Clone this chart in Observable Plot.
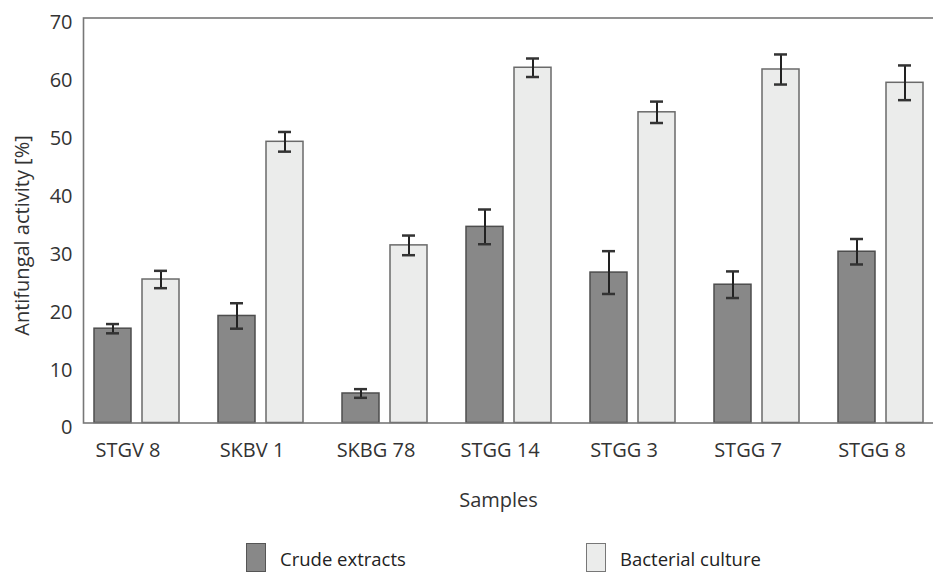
<!DOCTYPE html>
<html>
<head>
<meta charset="utf-8">
<script src="https://cdn.jsdelivr.net/npm/d3@7"></script>
<script src="https://cdn.jsdelivr.net/npm/@observablehq/plot@0.6"></script>
<style>
  html, body { margin: 0; padding: 0; background: #fff; }
  body { width: 933px; height: 572px; position: relative; overflow: hidden; font-family: "Open Sans", sans-serif; }
  #legend { position: absolute; left: 0; top: 543px; width: 933px; height: 29px; font-size: 18.5px; color: #222; }
  .item { position: absolute; top: 0; display: flex; align-items: flex-start; }
  .sw { width: 20px; height: 29px; box-sizing: border-box; border: 1.5px solid #555; }
  .lbl { margin-left: 14px; margin-top: 8px; line-height: 16px; white-space: nowrap; }
</style>
</head>
<body>
<div id="chart"></div>
<div id="legend">
  <div class="item" style="left:246px"><div class="sw" style="background:#888888"></div><div class="lbl">Crude extracts</div></div>
  <div class="item" style="left:586px"><div class="sw" style="background:#ebeceb;border-color:#777"></div><div class="lbl">Bacterial culture</div></div>
</div>
<script>
const samples = ["STGV 8", "SKBV 1", "SKBG 78", "STGG 14", "STGG 3", "STGG 7", "STGG 8"];
const crude = [16.3, 18.5, 5.1, 33.9, 26.0, 23.9, 29.6];
const crudeErr = [0.8, 2.2, 0.75, 3.0, 3.7, 2.3, 2.2];
const culture = [24.8, 48.6, 30.7, 61.4, 53.7, 61.1, 58.8];
const cultureErr = [1.5, 1.7, 1.7, 1.6, 1.85, 2.6, 3.0];
const yTicks = [0, 10, 20, 30, 40, 50, 60, 70];

const rows = samples.map((s, i) => ({
  sample: s,
  crude: crude[i], crudeErr: crudeErr[i],
  culture: culture[i], cultureErr: cultureErr[i]
}));

const chart = Plot.plot({
  width: 933,
  height: 526,
  marginLeft: 83,
  marginRight: -2,
  marginTop: 17.5,
  marginBottom: 103.5,
  style: { fontFamily: "Open Sans, sans-serif", fontSize: "20px", color: "#333", background: "#fff" },
  x: { domain: samples, range: [93.3, 923.5], paddingInner: 0.316, paddingOuter: 0, axis: null },
  y: { domain: [0, 70], axis: null },
  marks: [
    Plot.barY(rows, { x: "sample", y: "crude", fill: "#888888", stroke: "#4d4d4d", strokeWidth: 1.5, insetRight: 48 }),
    Plot.barY(rows, { x: "sample", y: "culture", fill: "#ebeceb", stroke: "#6a6a6a", strokeWidth: 1.5, insetLeft: 48 }),
    Plot.ruleX(rows, { x: "sample", y1: d => d.crude - d.crudeErr, y2: d => d.crude + d.crudeErr, dx: -24, stroke: "#222", strokeWidth: 2 }),
    Plot.ruleX(rows, { x: "sample", y1: d => d.culture - d.cultureErr, y2: d => d.culture + d.cultureErr, dx: 24, stroke: "#222", strokeWidth: 2 }),
    Plot.tickY(rows, { x: "sample", y: d => d.crude - d.crudeErr, insetLeft: 12, insetRight: 60, stroke: "#333", strokeWidth: 2.5 }),
    Plot.tickY(rows, { x: "sample", y: d => d.crude + d.crudeErr, insetLeft: 12, insetRight: 60, stroke: "#333", strokeWidth: 2.5 }),
    Plot.tickY(rows, { x: "sample", y: d => d.culture - d.cultureErr, insetLeft: 60, insetRight: 12, stroke: "#333", strokeWidth: 2.5 }),
    Plot.tickY(rows, { x: "sample", y: d => d.culture + d.cultureErr, insetLeft: 60, insetRight: 12, stroke: "#333", strokeWidth: 2.5 }),
    Plot.frame({ stroke: "#777", strokeWidth: 1.6 }),
    Plot.axisY(yTicks, { tickSize: 0, tickPadding: 11, dy: 5, fontSize: 20, label: null, fill: "#333" }),
    Plot.axisX(samples, { tickSize: 0, tickPadding: 20, dx: -9, fontSize: 20, label: null, fill: "#333" }),
    Plot.text(["Samples"], { frameAnchor: "bottom", dx: -11, dy: 77.5, lineAnchor: "middle", fontSize: 20, fill: "#333" }),
    Plot.text(["Antifungal activity [%]"], { frameAnchor: "left", textAnchor: "middle", rotate: -90, dx: -61, dy: 15, lineAnchor: "middle", fontSize: 20, fill: "#333" })
  ]
});
document.getElementById("chart").appendChild(chart);
</script>
</body>
</html>
